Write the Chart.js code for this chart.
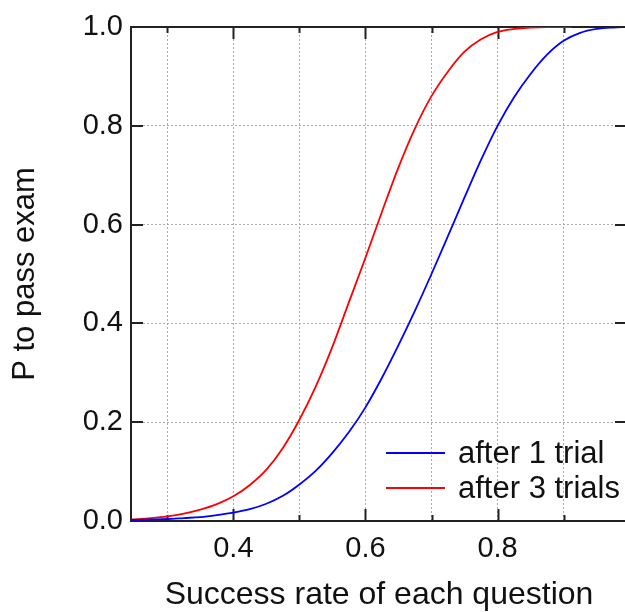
<!DOCTYPE html>
<html>
<head>
<meta charset="utf-8">
<script src="https://cdn.jsdelivr.net/npm/chart.js@4.4.1/dist/chart.umd.min.js"></script>
<style>
  html, body { margin: 0; padding: 0; background: #fff; overflow: hidden; }
  #wrap { width: 627px; height: 612px; }
</style>
</head>
<body>
<div id="wrap"><canvas id="passChart"></canvas></div>
<script>
// success rate of each question (x) and P to pass exam
const xBlue = [0.245, 0.275, 0.3, 0.325, 0.35, 0.375, 0.4, 0.425, 0.45, 0.475, 0.5, 0.525, 0.55, 0.575, 0.6,
               0.625, 0.65, 0.675, 0.7, 0.725, 0.75, 0.775, 0.8, 0.825, 0.85, 0.875, 0.9, 0.925, 0.95, 0.975, 0.996];
const oneTrial = [0.002, 0.003, 0.004, 0.006, 0.008, 0.012, 0.017, 0.024, 0.035, 0.051, 0.074, 0.102, 0.138, 0.18, 0.23,
                  0.29, 0.356, 0.426, 0.50, 0.577, 0.655, 0.731, 0.80, 0.858, 0.905, 0.944, 0.972, 0.988, 0.996, 0.999, 1.0];

const xRed = [0.245, 0.275, 0.3, 0.325, 0.35, 0.375, 0.4, 0.425, 0.45, 0.475, 0.5, 0.525, 0.55, 0.575, 0.6,
              0.625, 0.65, 0.675, 0.7, 0.725, 0.75, 0.775, 0.8, 0.825, 0.85, 0.875, 0.912];
const threeTrials = [0.003, 0.006, 0.0095, 0.015, 0.023, 0.034, 0.05, 0.073, 0.104, 0.148, 0.205, 0.273, 0.353, 0.443, 0.533,
                     0.626, 0.716, 0.795, 0.86, 0.91, 0.95, 0.975, 0.99, 0.996, 0.999, 1.0, 1.0];

const xTicks = [0.3, 0.4, 0.5, 0.6, 0.7, 0.8, 0.9];
const xLabelled = [0.4, 0.6, 0.8];
const yTicks = [0, 0.2, 0.4, 0.6, 0.8, 1.0];

const seriesNames = ['after 1 trial', 'after 3 trials'];

const fontFamily = '"Liberation Sans", Arial, sans-serif';

function toPoints(xs, ys) {
  return xs.map((x, i) => ({ x: x, y: ys[i] }));
}

function isMajor(v) {
  return xLabelled.some(m => Math.abs(m - v) < 1e-6);
}

// frame, inward tick marks
const framePlugin = {
  id: 'frame',
  beforeDatasetsDraw(chart) {
    const ctx = chart.ctx;
    const a = chart.chartArea;
    const xs = chart.scales.x, ys = chart.scales.y;
    ctx.save();
    ctx.strokeStyle = '#222';
    ctx.lineWidth = 2;
    ctx.strokeRect(a.left, a.top, a.right - a.left, a.bottom - a.top);
    xTicks.forEach(v => {
      const px = Math.round(xs.getPixelForValue(v)) + 0.5;
      const len = isMajor(v) ? 12 : 6;
      ctx.beginPath();
      ctx.moveTo(px, a.bottom); ctx.lineTo(px, a.bottom - len);
      ctx.moveTo(px, a.top); ctx.lineTo(px, a.top + len);
      ctx.stroke();
    });
    yTicks.forEach(v => {
      const py = Math.round(ys.getPixelForValue(v));
      ctx.beginPath();
      ctx.moveTo(a.left, py); ctx.lineTo(a.left + 12, py);
      ctx.moveTo(a.right, py); ctx.lineTo(a.right - 12, py);
      ctx.stroke();
    });
    ctx.restore();
  },
  afterDraw(chart) {
    // legend in the lower right corner of the plot
    const ctx = chart.ctx;
    const a = chart.chartArea;
    ctx.save();
    ctx.font = '31px ' + fontFamily;
    ctx.textBaseline = 'alphabetic';
    chart.data.datasets.forEach((ds, i) => {
      const y = a.bottom - 68 + i * 35;
      ctx.strokeStyle = ds.borderColor;
      ctx.lineWidth = 1.8;
      ctx.beginPath();
      ctx.moveTo(a.right - 241, y);
      ctx.lineTo(a.right - 182, y);
      ctx.stroke();
      ctx.fillStyle = '#111';
      ctx.fillText(ds.label, a.right - 169, y + 10);
    });
    ctx.restore();
  }
};

const ctx = document.getElementById('passChart').getContext('2d');
const passChart = new Chart(ctx, {
  type: 'line',
  data: {
    datasets: [{
      label: seriesNames[0],
      data: toPoints(xBlue, oneTrial),
      borderColor: '#0000ff',
      borderWidth: 1.8,
      pointRadius: 0,
      cubicInterpolationMode: 'monotone',
      fill: false
    }, {
      label: seriesNames[1],
      data: toPoints(xRed, threeTrials),
      borderColor: '#ff0000',
      borderWidth: 1.8,
      pointRadius: 0,
      cubicInterpolationMode: 'monotone',
      fill: false
    }]
  },
  options: {
    responsive: true,
    maintainAspectRatio: false,
    animation: false,
    layout: { padding: { top: 27, right: 0, left: 0, bottom: 0 } },
    plugins: {
      legend: { display: false },
      tooltip: { enabled: false }
    },
    scales: {
      x: {
        type: 'linear',
        min: 0.245,
        max: 0.996,
        afterBuildTicks: function (scale) {
          scale.ticks = xTicks.map(v => ({ value: v }));
        },
        afterFit: function (scale) { scale.height = 91; },
        grid: { color: '#aaa', lineWidth: 1, drawTicks: false },
        border: { display: false, dash: [2, 2] },
        ticks: {
          padding: 11,
          color: '#111',
          font: { family: fontFamily, size: 29 },
          maxRotation: 0,
          autoSkip: false,
          callback: function (v) { return isMajor(v) ? v.toFixed(1) : ''; }
        },
        title: {
          display: true,
          text: 'Success rate of each question',
          color: '#111',
          font: { family: fontFamily, size: 32 },
          padding: { top: 0, bottom: -2 }
        }
      },
      y: {
        min: 0,
        max: 1,
        afterBuildTicks: function (scale) {
          scale.ticks = yTicks.map(v => ({ value: v }));
        },
        afterFit: function (scale) { scale.width = 131; },
        grid: { color: '#aaa', lineWidth: 1, drawTicks: false },
        border: { display: false, dash: [2, 2] },
        ticks: {
          padding: 8,
          color: '#111',
          font: { family: fontFamily, size: 29 },
          callback: function (v) { return v.toFixed(1); }
        },
        title: {
          display: true,
          text: 'P to pass exam',
          color: '#111',
          font: { family: fontFamily, size: 31 },
          padding: { top: 7, bottom: 0 }
        }
      }
    }
  },
  plugins: [framePlugin]
});
</script>
</body>
</html>
